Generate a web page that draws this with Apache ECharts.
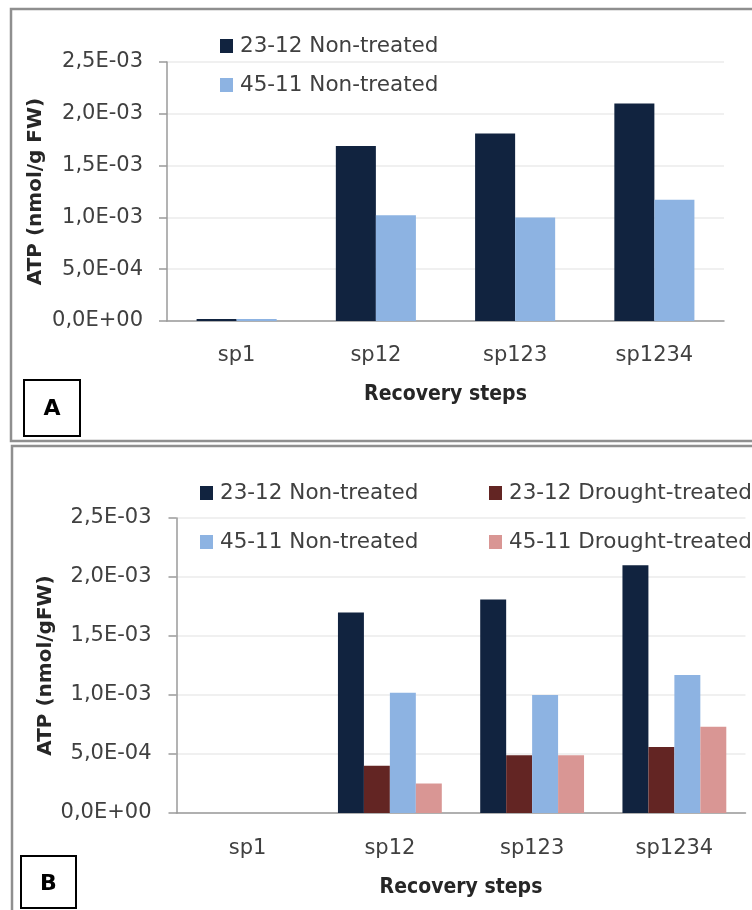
<!DOCTYPE html>
<html>
<head>
<meta charset="utf-8">
<script src="https://cdn.jsdelivr.net/npm/echarts@6/dist/echarts.min.js"></script>
<style>
html,body{margin:0;padding:0;background:#fff;}
#chart{width:752px;height:910px;}
</style>
</head>
<body>
<div id="chart"></div>
<script>
// ---- data ----
const categories = ['sp1', 'sp12', 'sp123', 'sp1234'];
const seriesNames = ['23-12 Non-treated', '23-12 Drought-treated', '45-11 Non-treated', '45-11 Drought-treated'];
// Panel A
const a_2312_non = [0.00002, 0.00169, 0.00181, 0.00210];
const a_4511_non = [0.00002, 0.00102, 0.00100, 0.00117];
// Panel B
const b_2312_non = [0, 0.00170, 0.00181, 0.00210];
const b_2312_dro = [0, 0.00040, 0.00049, 0.00056];
const b_4511_non = [0, 0.00102, 0.00100, 0.00117];
const b_4511_dro = [0, 0.00025, 0.00049, 0.00073];
const yTicks = [0, 0.0005, 0.001, 0.0015, 0.002, 0.0025];
const panelLabels = ['A', 'B'];
const xTitle = 'Recovery steps';
const yTitles = ['ATP (nmol/g FW)', 'ATP (nmol/gFW)'];

const colors = {
  '23-12 Non-treated': '#11233f',
  '23-12 Drought-treated': '#632523',
  '45-11 Non-treated': '#8db3e2',
  '45-11 Drought-treated': '#d99694'
};

function fmt(v) {
  if (Math.abs(v) < 1e-12) return '0,0E+00';
  let e = Math.floor(Math.log10(Math.abs(v)) + 1e-9);
  let m = v / Math.pow(10, e);
  if (Math.round(m * 10) / 10 >= 10) { m /= 10; e++; }
  const s = m.toFixed(1).replace('.', ',');
  const es = (e < 0 ? '-' : '+') + String(Math.abs(e)).padStart(2, '0');
  return s + 'E' + es;
}

const FONT = '"DejaVu Sans", sans-serif';
const TXT = '#404040';

function yAx(gridIndex, name, gap, margin) {
  return {
    type: 'value', gridIndex: gridIndex,
    min: yTicks[0], max: yTicks[yTicks.length - 1], interval: yTicks[1] - yTicks[0],
    name: name, nameLocation: 'middle', nameRotate: 90, nameGap: gap, nameMoveOverlap: false,
    nameTextStyle: { fontFamily: FONT, fontWeight: 'bold', fontSize: 20, color: '#262626' },
    axisLine: { show: true, lineStyle: { color: '#9a9a9a', width: 1.5 } },
    axisTick: { show: true, length: 8, lineStyle: { color: '#9a9a9a', width: 1.5 } },
    axisLabel: { formatter: fmt, fontFamily: FONT, fontSize: 21, color: TXT, margin: margin },
    splitLine: { show: true, lineStyle: { color: '#ebebeb', width: 1.5 } }
  };
}
function xAx(gridIndex, margin, gap) {
  return {
    type: 'category', gridIndex: gridIndex, data: categories,
    name: xTitle, nameLocation: 'middle', nameGap: gap, nameMoveOverlap: false,
    nameTextStyle: { fontFamily: '"DejaVu Sans Condensed", "DejaVu Sans", sans-serif', fontWeight: 'bold', fontSize: 21, color: '#262626' },
    axisLine: { show: true, lineStyle: { color: '#9a9a9a', width: 1.5 } },
    axisTick: { show: false },
    axisLabel: { fontFamily: FONT, fontSize: 21, color: TXT, margin: margin }
  };
}
function leg(name, left, centerY) {
  return {
    data: [name], left: left, top: centerY - 10, padding: 0,
    itemWidth: 13, itemHeight: 14, icon: 'rect', selectedMode: false,
    textStyle: { fontFamily: FONT, fontSize: 21.5, color: TXT, lineHeight: 20, padding: [0, 0, 0, 2] }
  };
}
function bar(name, data, xi, catGap) {
  return {
    type: 'bar', name: name, data: data, xAxisIndex: xi, yAxisIndex: xi,
    barGap: '0%', barCategoryGap: catGap,
    itemStyle: { color: colors[name] }, silent: true
  };
}

const option = {
  animation: false,
  backgroundColor: '#ffffff',
  grid: [
    { left: 167, right: 28, top: 62, bottom: 589 },
    { left: 176.5, right: 6.5, top: 518, bottom: 97 }
  ],
  xAxis: [xAx(0, 24, 63), xAx(1, 25, 64)],
  yAxis: [yAx(0, yTitles[0], 121, 24), yAx(1, yTitles[1], 121, 25)],
  legend: [
    leg(seriesNames[0], 220, 45),
    leg(seriesNames[2], 220, 84),
    leg(seriesNames[0], 200, 492),
    leg(seriesNames[1], 489, 492),
    leg(seriesNames[2], 200, 541),
    leg(seriesNames[3], 489, 541)
  ],
  series: [
    bar(seriesNames[0], a_2312_non, 0, '42.5%'),
    bar(seriesNames[2], a_4511_non, 0, '42.5%'),
    bar(seriesNames[0], b_2312_non, 1, '27%'),
    bar(seriesNames[1], b_2312_dro, 1, '27%'),
    bar(seriesNames[2], b_4511_non, 1, '27%'),
    bar(seriesNames[3], b_4511_dro, 1, '27%')
  ],
  graphic: [
    { type: 'rect', shape: { x: 11, y: 9, width: 780, height: 432 }, style: { fill: null, stroke: '#8f8f8f', lineWidth: 2.5 }, silent: true },
    { type: 'rect', shape: { x: 12, y: 446, width: 780, height: 500 }, style: { fill: null, stroke: '#8f8f8f', lineWidth: 2.5 }, silent: true },
    { type: 'rect', shape: { x: 24, y: 380, width: 56, height: 56 }, style: { fill: '#fff', stroke: '#000', lineWidth: 2 }, silent: true },
    { type: 'text', x: 52, y: 409, style: { text: panelLabels[0], font: 'bold 22px "DejaVu Sans", sans-serif', fill: '#000', align: 'center', verticalAlign: 'middle' }, silent: true },
    { type: 'rect', shape: { x: 21, y: 856, width: 55, height: 52 }, style: { fill: '#fff', stroke: '#000', lineWidth: 2 }, silent: true },
    { type: 'text', x: 48.5, y: 884, style: { text: panelLabels[1], font: 'bold 22px "DejaVu Sans", sans-serif', fill: '#000', align: 'center', verticalAlign: 'middle' }, silent: true }
  ]
};

const chart = echarts.init(document.getElementById('chart'), null, { renderer: 'canvas' });
chart.setOption(option);
</script>
</body>
</html>
